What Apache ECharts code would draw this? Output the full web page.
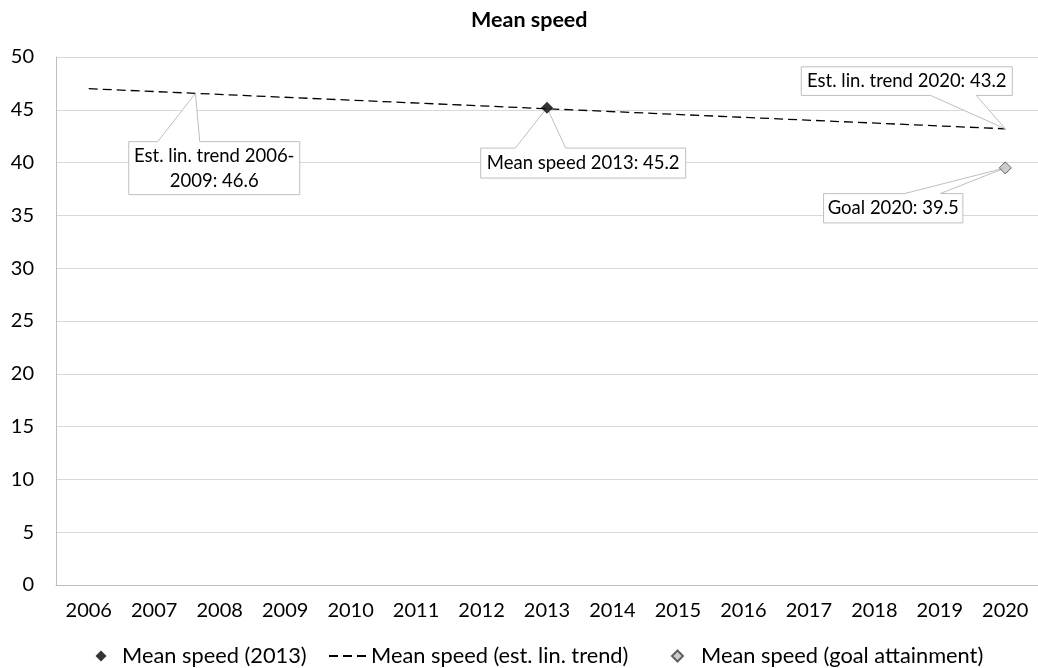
<!DOCTYPE html>
<html>
<head>
<meta charset="utf-8">
<script src="https://cdn.jsdelivr.net/npm/echarts@6/dist/echarts.min.js"></script>
<style>
  html, body { margin: 0; padding: 0; background: #fff; }
  #chart { width: 1038px; height: 668px; }
</style>
</head>
<body>
<div id="chart"></div>
<script>
// Years on the category axis
const years = ['2006', '2007', '2008', '2009', '2010', '2011', '2012', '2013',
               '2014', '2015', '2016', '2017', '2018', '2019', '2020'];

// Estimated linear trend: start and end values, drawn as a straight line
const trendEstimate = [47.0, null, null, null, null, null, null, null,
                       null, null, null, null, null, null, 43.2];

// Observed mean speed in 2013
const meanSpeed2013 = [null, null, null, null, null, null, null, 45.2,
                       null, null, null, null, null, null, null];

// Goal attainment value for 2020
const goal2020 = [null, null, null, null, null, null, null, null,
                  null, null, null, null, null, null, 39.5];

// Trend average over the 2006-2009 period
const trendPeriod = '2006-2009';
const trendPeriodMean = 46.6;

const seriesNames = ['Mean speed (2013)', 'Mean speed (est. lin. trend)', 'Mean speed (goal attainment)'];

const FONT = 'Lato, "Open Sans", sans-serif';
const chart = echarts.init(document.getElementById('chart'), null, { renderer: 'canvas' });

// three dashes for the trend legend key
const DASH_ICON = 'path://M0,0h9v2h-9z M14,0h9v2h-9z M28,0h9v2h-9z';

const legendText = { fontFamily: FONT, fontSize: 21.8, color: '#000' };
const legendBase = {
  orient: 'horizontal',
  top: 645,
  padding: 0,
  itemHeight: 11,
  selectedMode: false,
  textStyle: legendText
};

chart.setOption({
  animation: false,
  backgroundColor: '#fff',
  title: {
    text: 'Mean speed',
    left: 471,
    top: 9,
    padding: 0,
    textStyle: { fontFamily: FONT, fontSize: 21.5, fontWeight: 'bold', color: '#000' }
  },
  grid: { left: 56, top: 57, width: 988, height: 528, containLabel: false },
  xAxis: {
    type: 'category',
    data: years,
    boundaryGap: true,
    axisLine: { show: true, lineStyle: { color: '#bfbfbf', width: 1 } },
    axisTick: { show: false },
    axisLabel: { fontFamily: FONT, fontSize: 20, color: '#000', margin: 16, interval: 0 },
    splitLine: { show: false }
  },
  yAxis: {
    type: 'value',
    min: 0,
    max: 50,
    interval: 5,
    axisLine: { show: true, lineStyle: { color: '#bfbfbf', width: 1 } },
    axisTick: { show: false },
    axisLabel: { fontFamily: FONT, fontSize: 20, color: '#000', margin: 22 },
    splitLine: { show: true, lineStyle: { color: '#d9d9d9', width: 1 } }
  },
  legend: [
    Object.assign({}, legendBase, {
      left: 95.5, itemWidth: 11,
      textStyle: Object.assign({}, legendText, { padding: [0, 0, 0, 10.5] }),
      data: [{ name: seriesNames[0], icon: 'diamond' }]
    }),
    Object.assign({}, legendBase, {
      left: 329, itemWidth: 37, itemHeight: 2,
      data: [{ name: seriesNames[1], icon: DASH_ICON }]
    }),
    Object.assign({}, legendBase, {
      left: 671, itemWidth: 11,
      textStyle: Object.assign({}, legendText, { padding: [0, 0, 0, 13] }),
      data: [{ name: seriesNames[2], icon: 'diamond' }]
    })
  ],
  series: [
    {
      name: seriesNames[0],
      type: 'scatter',
      data: meanSpeed2013,
      symbol: 'diamond',
      symbolSize: 12,
      itemStyle: { color: '#000' },
      z: 20
    },
    {
      name: seriesNames[1],
      type: 'line',
      data: trendEstimate,
      connectNulls: true,
      symbol: 'none',
      showSymbol: false,
      itemStyle: { color: '#000' },
      lineStyle: { color: '#000', width: 1.3, type: [9, 5] },
      z: 3
    },
    {
      name: seriesNames[2],
      type: 'scatter',
      data: goal2020,
      symbol: 'diamond',
      symbolSize: 12,
      itemStyle: { color: '#c0c0c0', borderColor: '#404040', borderWidth: 1 },
      z: 20
    }
  ]
});

// Callout boxes with a pointer wedge, anchored to data points
function drawCallouts() {
  const toPx = (idx, val) => chart.convertToPixel({ xAxisIndex: 0, yAxisIndex: 0 }, [idx, val]);
  const last = years.length - 1;

  const trendStart = toPx(0, trendEstimate[0]);
  const trendEnd = toPx(last, trendEstimate[last]);
  // anchor on the trend line within the 2006-2009 span
  const f = 1.63 / last;
  const anchorTrend = [trendStart[0] + f * (trendEnd[0] - trendStart[0]),
                       trendStart[1] + f * (trendEnd[1] - trendStart[1])];
  const anchor2013 = toPx(7, meanSpeed2013[7]);
  const anchorGoal = toPx(last, goal2020[last]);

  const fmt = v => v.toFixed(1);
  const callouts = [
    { p: anchorTrend, box: [-66.7, 104.3, 48.3, 101.3], wedge: [-37.7, 4.3], side: 'top',
      lines: ['Est. lin. trend ' + trendPeriod.split('-')[0] + '-', trendPeriod.split('-')[1] + ': ' + fmt(trendPeriodMean)] },
    { p: anchor2013, box: [-66.3, 138.7, 40.4, 70.4], wedge: [-31.6, 18.7], side: 'top',
      lines: ['Mean speed ' + years[7] + ': ' + fmt(meanSpeed2013[7])] },
    { p: trendEnd, box: [-204, 7, -62, -33.4], wedge: [-74.7, -29], side: 'bottom',
      lines: ['Est. lin. trend ' + years[last] + ': ' + fmt(trendEstimate[last])] },
    { p: anchorGoal, box: [-181.7, -42.4, 25.7, 55], wedge: [-100.7, -65], side: 'top',
      lines: ['Goal ' + years[last] + ': ' + fmt(goal2020[last])] }
  ];

  const elements = [];
  callouts.forEach(c => {
    const [px, py] = c.p;
    const L = px + c.box[0], R = px + c.box[1], T = py + c.box[2], B = py + c.box[3];
    const w1 = px + c.wedge[0], w2 = px + c.wedge[1];
    let pts;
    if (c.side === 'top') {
      pts = [[L, T], [w1, T], [px, py], [w2, T], [R, T], [R, B], [L, B]];
    } else {
      pts = [[L, T], [R, T], [R, B], [w2, B], [px, py], [w1, B], [L, B]];
    }
    elements.push({
      type: 'polygon',
      shape: { points: pts },
      style: { fill: '#fff', stroke: '#bfbfbf', lineWidth: 1 },
      z: 10
    });
    elements.push({
      type: 'text',
      x: (L + R) / 2,
      y: (T + B) / 2,
      style: {
        text: c.lines.join('\n'),
        font: '18.5px ' + FONT,
        fill: '#000',
        align: 'center',
        verticalAlign: 'middle',
        lineHeight: 25
      },
      z: 11
    });
  });
  chart.setOption({ graphic: elements });
}
drawCallouts();
</script>
</body>
</html>
